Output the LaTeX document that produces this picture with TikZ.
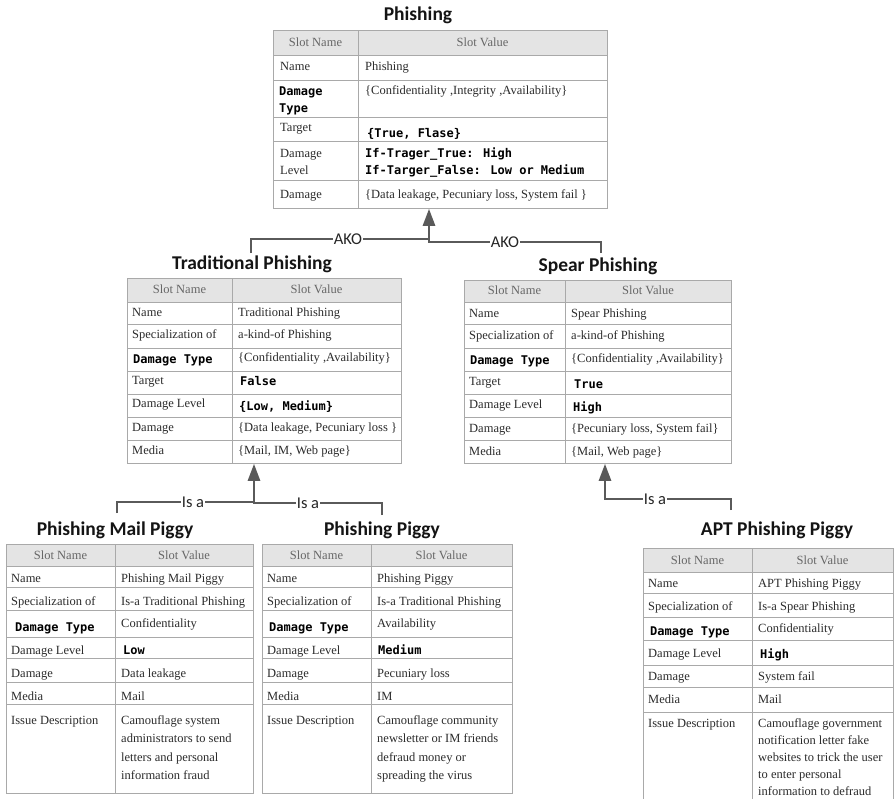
\documentclass[tikz,border=0pt]{standalone}
\usepackage{fontspec}
\setmainfont{Liberation Serif}
\newfontfamily\titlefont{Carlito}
\newfontfamily\codefont{DejaVu Sans Mono}
\usetikzlibrary{arrows.meta}

\definecolor{linkgray}{HTML}{5A5A5A}
\definecolor{rulegray}{HTML}{A9A9A9}
\definecolor{headfill}{HTML}{E4E4E4}
\definecolor{bodytext}{HTML}{2B2B2B}

\tikzset{
  tv/.style={anchor=base west, inner sep=0pt, text=bodytext, font=\fontsize{12.5}{14}\selectfont},
  tm/.style={anchor=base west, inner sep=0pt, text=black, font=\codefont\bfseries\fontsize{12}{14}\selectfont},
  th/.style={anchor=base, inner sep=0pt, text=black!60, font=\fontsize{12.5}{14}\selectfont},
  ttl/.style={inner sep=0pt, text=black!92, font=\titlefont\bfseries\fontsize{19.5}{22}\selectfont},
  lbl/.style={fill=white, inner sep=1pt, text=black!85, font=\titlefont\fontsize{16.5}{18}\selectfont},
  conn/.style={draw=linkgray, line width=2.6pt},
  arr/.style={conn, -{Triangle[length=17pt,width=12pt]}},
  frame/.style={draw=rulegray, line width=0.8pt, inner sep=0pt, anchor=north west},
  rule/.style={draw=rulegray, line width=0.7pt},
}

\begin{document}
\begin{tikzpicture}[x=1pt,y=-1pt]
\useasboundingbox (0,0) rectangle (894,798);
\fill[white] (0,0) rectangle (894,798);
\clip (0,0) rectangle (894,798);

% ---------- Phishing ----------
\node[ttl] (tph) at (418,15) {Phishing};
\begin{scope}[name prefix=ph-]
  \fill[headfill] (273,30) rectangle (607,55);
  \foreach \y in {55,80,117,141,180} \draw[rule] (273,\y) -- (607,\y);
  \draw[rule] (358,30) -- (358,208);
  \node[frame, minimum width=334pt, minimum height=178pt] (box) at (273,30) {};
  \node[th] (h1) at (315.5,46) {Slot Name};
  \node[th] (h2) at (482.5,46) {Slot Value};
  \node[tv] (n1) at (280,70) {Name};
  \node[tv] (v1) at (365,70) {Phishing};
  \node[tm] (n2) at (279,95) {Damage};
  \node[tm] (n2b) at (279,112) {Type};
  \node[tv] (v2) at (365,94) {\{Confidentiality ,Integrity ,Availability\}};
  \node[tv] (n3) at (280,131) {Target};
  \node[tm] (v3) at (367,137) {\{True, Flase\}};
  \node[tv] (n4) at (280,157) {Damage};
  \node[tv] (n4b) at (280,174) {Level};
  \node[tm] (v4) at (365,157) {If-Trager\_True: High};
  \node[tm] (v4b) at (365,174) {If-Targer\_False: Low or Medium};
  \node[tv] (n5) at (280,198) {Damage};
  \node[tv] (v5) at (365,198) {\{Data leakage, Pecuniary loss, System fail \}};
\end{scope}

% ---------- Traditional Phishing ----------
\node[ttl] (ttr) at (252,264) {Traditional Phishing};
\begin{scope}[name prefix=tr-]
  \fill[headfill] (127,278) rectangle (401,302);
  \foreach \y in {302,324,348,371,394,417,440} \draw[rule] (127,\y) -- (401,\y);
  \draw[rule] (232,278) -- (232,463);
  \node[frame, minimum width=274pt, minimum height=185pt] (box) at (127,278) {};
  \node[th] (h1) at (179.5,293) {Slot Name};
  \node[th] (h2) at (316.5,293) {Slot Value};
  \node[tv] (n1) at (132,316) {Name};
  \node[tv] (v1) at (238,316) {Traditional Phishing};
  \node[tv] (n2) at (132,338) {Specialization of};
  \node[tv] (v2) at (238,338) {a-kind-of Phishing};
  \node[tm] (n3) at (133,363) {Damage Type};
  \node[tv] (v3) at (238,361) {\{Confidentiality ,Availability\}};
  \node[tv] (n4) at (132,384) {Target};
  \node[tm] (v4) at (240,385) {False};
  \node[tv] (n5) at (132,407) {Damage Level};
  \node[tm] (v5) at (239,410) {\{Low, Medium\}};
  \node[tv] (n6) at (132,431) {Damage};
  \node[tv] (v6) at (238,431) {\{Data leakage, Pecuniary loss \}};
  \node[tv] (n7) at (132,454) {Media};
  \node[tv] (v7) at (238,454) {\{Mail, IM, Web page\}};
\end{scope}

% ---------- Spear Phishing ----------
\node[ttl] (tsp) at (598,266) {Spear Phishing};
\begin{scope}[name prefix=sp-]
  \fill[headfill] (464,280) rectangle (731,302);
  \foreach \y in {302,324,348,371,394,417,440} \draw[rule] (464,\y) -- (731,\y);
  \draw[rule] (565,280) -- (565,463);
  \node[frame, minimum width=267pt, minimum height=183pt] (box) at (464,280) {};
  \node[th] (h1) at (514.5,294) {Slot Name};
  \node[th] (h2) at (648,294) {Slot Value};
  \node[tv] (n1) at (469,317) {Name};
  \node[tv] (v1) at (571,317) {Spear Phishing};
  \node[tv] (n2) at (469,339) {Specialization of};
  \node[tv] (v2) at (571,339) {a-kind-of Phishing};
  \node[tm] (n3) at (470,364) {Damage Type};
  \node[tv] (v3) at (571,362) {\{Confidentiality ,Availability\}};
  \node[tv] (n4) at (469,385) {Target};
  \node[tm] (v4) at (574,388) {True};
  \node[tv] (n5) at (469,408) {Damage Level};
  \node[tm] (v5) at (573,411) {High};
  \node[tv] (n6) at (469,432) {Damage};
  \node[tv] (v6) at (571,432) {\{Pecuniary loss, System fail\}};
  \node[tv] (n7) at (469,455) {Media};
  \node[tv] (v7) at (571,455) {\{Mail, Web page\}};
\end{scope}

% ---------- Phishing Mail Piggy ----------
\node[ttl] (tmp) at (115,530) {Phishing Mail Piggy};
\begin{scope}[name prefix=mp-]
  \fill[headfill] (6,544) rectangle (253,566);
  \foreach \y in {566,587,610,637,658,682,704} \draw[rule] (6,\y) -- (253,\y);
  \draw[rule] (115,544) -- (115,793);
  \node[frame, minimum width=247pt, minimum height=249pt] (box) at (6,544) {};
  \node[th] (h1) at (60.5,559) {Slot Name};
  \node[th] (h2) at (184,559) {Slot Value};
  \node[tv] (n1) at (11,582) {Name};
  \node[tv] (v1) at (121,582) {Phishing Mail Piggy};
  \node[tv] (n2) at (11,605) {Specialization of};
  \node[tv] (v2) at (121,605) {Is-a Traditional Phishing};
  \node[tm] (n3) at (15,631) {Damage Type};
  \node[tv] (v3) at (121,627) {Confidentiality};
  \node[tv] (n4) at (11,654) {Damage Level};
  \node[tm] (v4) at (123,654) {Low};
  \node[tv] (n5) at (11,677) {Damage};
  \node[tv] (v5) at (121,677) {Data leakage};
  \node[tv] (n6) at (11,700) {Media};
  \node[tv] (v6) at (121,700) {Mail};
  \node[tv] (n7) at (11,724) {Issue Description};
  \node[tv] (v7a) at (121,724) {Camouflage system};
  \node[tv] (v7b) at (121,742.5) {administrators to send};
  \node[tv] (v7c) at (121,761) {letters and personal};
  \node[tv] (v7d) at (121,779.5) {information fraud};
\end{scope}

% ---------- Phishing Piggy ----------
\node[ttl] (tpp) at (382,530) {Phishing Piggy};
\begin{scope}[name prefix=pp-]
  \fill[headfill] (262,544) rectangle (512,566);
  \foreach \y in {566,587,610,637,658,682,704} \draw[rule] (262,\y) -- (512,\y);
  \draw[rule] (371,544) -- (371,793);
  \node[frame, minimum width=250pt, minimum height=249pt] (box) at (262,544) {};
  \node[th] (h1) at (316.5,559) {Slot Name};
  \node[th] (h2) at (441.5,559) {Slot Value};
  \node[tv] (n1) at (267,582) {Name};
  \node[tv] (v1) at (377,582) {Phishing Piggy};
  \node[tv] (n2) at (267,605) {Specialization of};
  \node[tv] (v2) at (377,605) {Is-a Traditional Phishing};
  \node[tm] (n3) at (269,631) {Damage Type};
  \node[tv] (v3) at (377,627) {Availability};
  \node[tv] (n4) at (267,654) {Damage Level};
  \node[tm] (v4) at (378,654) {Medium};
  \node[tv] (n5) at (267,677) {Damage};
  \node[tv] (v5) at (377,677) {Pecuniary loss};
  \node[tv] (n6) at (267,700) {Media};
  \node[tv] (v6) at (377,700) {IM};
  \node[tv] (n7) at (267,724) {Issue Description};
  \node[tv] (v7a) at (377,724) {Camouflage community};
  \node[tv] (v7b) at (377,742.5) {newsletter or IM friends};
  \node[tv] (v7c) at (377,761) {defraud money or};
  \node[tv] (v7d) at (377,779.5) {spreading the virus};
\end{scope}

% ---------- APT Phishing Piggy ----------
\node[ttl] (tap) at (777,530) {APT Phishing Piggy};
\begin{scope}[name prefix=ap-]
  \fill[headfill] (643,548) rectangle (893,572);
  \foreach \y in {572,593,617,640,665,687,712} \draw[rule] (643,\y) -- (893,\y);
  \draw[rule] (752,548) -- (752,830);
  \node[frame, minimum width=250pt, minimum height=282pt] (box) at (643,548) {};
  \node[th] (h1) at (697.5,564) {Slot Name};
  \node[th] (h2) at (822.5,564) {Slot Value};
  \node[tv] (n1) at (648,587) {Name};
  \node[tv] (v1) at (758,587) {APT Phishing Piggy};
  \node[tv] (n2) at (648,610) {Specialization of};
  \node[tv] (v2) at (758,610) {Is-a Spear Phishing};
  \node[tm] (n3) at (650,635) {Damage Type};
  \node[tv] (v3) at (758,632) {Confidentiality};
  \node[tv] (n4) at (648,657) {Damage Level};
  \node[tm] (v4) at (760,658) {High};
  \node[tv] (n5) at (648,680) {Damage};
  \node[tv] (v5) at (758,680) {System fail};
  \node[tv] (n6) at (648,703) {Media};
  \node[tv] (v6) at (758,703) {Mail};
  \node[tv] (n7) at (648,727) {Issue Description};
  \node[tv] (v7a) at (758,727) {Camouflage government};
  \node[tv] (v7b) at (758,744) {notification letter fake};
  \node[tv] (v7c) at (758,761) {websites to trick the user};
  \node[tv] (v7d) at (758,778) {to enter personal};
  \node[tv] (v7e) at (758,795) {information to defraud};
\end{scope}

% ---------- AKO links ----------
\coordinate (jA) at (429,239);
\coordinate (jB) at (429,242);
\coordinate (ctr) at (251,253);
\coordinate (csp) at (601,253);
\draw[conn] (csp) |- (jB) -- (jA);
\draw[arr] (ctr) |- (jA) -- (jA |- ph-box.south);
\node[lbl] (ako1) at (348,239) {AKO};
\node[lbl] (ako2) at (505,242) {AKO};

% ---------- Is-a links ----------
\coordinate (jC) at (254,502);
\coordinate (jD) at (254,503);
\coordinate (cmp) at (117,513);
\coordinate (cpp) at (382,515);
\draw[conn] (cpp) |- (jD) -- (jC);
\draw[arr] (cmp) |- (jC) -- (jC |- tr-box.south);
\node[lbl] (isa1) at (193,502) {Is a};
\node[lbl] (isa2) at (308,503) {Is a};

\coordinate (jE) at (605,499);
\coordinate (cap) at (731,510);
\draw[arr] (cap) |- (jE) -- (jE |- sp-box.south);
\node[lbl] (isa3) at (655,499) {Is a};
\end{tikzpicture}
\end{document}
